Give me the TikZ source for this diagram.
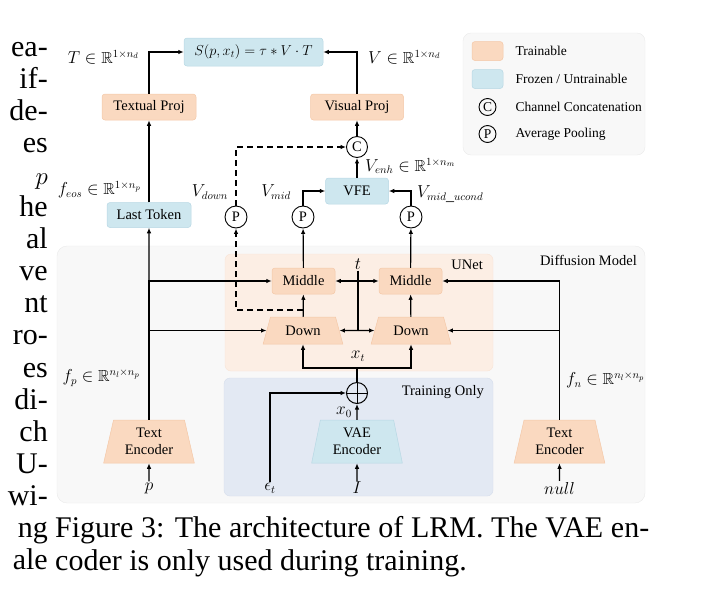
\documentclass[tikz,border=0pt]{standalone}
\usepackage{amssymb}
\usepackage{fontspec}
\setmainfont{Liberation Serif}
\usetikzlibrary{arrows.meta,positioning,calc,shapes.geometric}
\definecolor{trainfill}{RGB}{250,217,192}
\definecolor{trainedge}{RGB}{244,200,168}
\definecolor{frozfill}{RGB}{206,231,239}
\definecolor{frozedge}{RGB}{184,216,228}
\definecolor{unetfill}{RGB}{252,238,228}
\definecolor{unetedge}{RGB}{248,228,214}
\definecolor{trainonly}{RGB}{227,233,243}
\definecolor{trainonlyedge}{RGB}{214,222,236}
\definecolor{diffill}{RGB}{248,248,248}
\definecolor{difedge}{RGB}{234,234,234}
\newcommand\figfont{\fontsize{14.5}{16.5}\selectfont}
\newcommand\mathfont{\fontsize{16}{18}\selectfont}
\newcommand\legfont{\fontsize{13.5}{15}\selectfont}
\newcommand\capfont{\fontsize{30}{32.5}\selectfont}

\begin{document}
\begin{tikzpicture}[
  x=1pt,y=-1pt,>={Latex[length=5.5pt,width=4.5pt]},
  flow/.style={->,line width=1.2pt},
  link/.style={line width=1.2pt},
  box/.style={draw=trainedge,fill=trainfill,rounded corners=3pt,line width=.5pt,
    minimum height=26pt,inner sep=2pt,font=\figfont},
  frozen/.style={box,draw=frozedge,fill=frozfill},
  trap/.style={trapezium,draw=trainedge,fill=trainfill,line width=.5pt,
    trapezium stretches=true,align=center,inner sep=1pt,font=\figfont},
  pool/.style={circle,draw,line width=.9pt,minimum size=22pt,inner sep=0pt,font=\figfont},
  lbl/.style={inner sep=1pt,font=\mathfont},
  frag/.style={anchor=base east,inner sep=0pt,font=\capfont}]
\useasboundingbox (0,0) rectangle (706,611);
\foreach \w [count=\i] in {ea-,if-,de-,es,$p$,he,al,ve,nt,ro-,es,di-,ch,U-,wi-,ng,ale}
  \node[frag] (frag\i) at (48,{56+32.1*(\i-1)}) {\w};
\draw[draw=difedge,fill=diffill,rounded corners=10pt] (57,246) rectangle (645,503);
\draw[draw=difedge,fill=diffill,rounded corners=8pt] (463,33) rectangle (645,155);
\draw[draw=unetedge,fill=unetfill,rounded corners=6pt] (225,254) rectangle (493,371);
\draw[draw=trainonlyedge,fill=trainonly,rounded corners=6pt] (224,378) rectangle (493,496);
\node[inner sep=1pt,font=\figfont,anchor=east] (diffname) at (638,260) {Diffusion Model};
\node[inner sep=1pt,font=\figfont,anchor=east] (unetname) at (484,265) {UNet};
\node[inner sep=1pt,font=\figfont,anchor=east] (trainname) at (485,392) {Training Only};
\node[box,minimum width=31pt,minimum height=19pt] (legtrain) at (487.5,51) {};
\node[frozen,minimum width=31pt,minimum height=19pt] (legfroz) at (487.5,79) {};
\node[pool,minimum size=17pt,font=\legfont] (legcat) at (487.5,107) {C};
\node[pool,minimum size=17pt,font=\legfont] (legpool) at (487.5,134) {P};
\node[anchor=west,font=\legfont] at (512,51) {Trainable};
\node[anchor=west,font=\legfont] at (512,79) {Frozen / Untrainable};
\node[anchor=west,font=\legfont] at (512,107) {Channel Concatenation};
\node[anchor=west,font=\legfont] at (512,134) {Average Pooling};
\node[frozen,minimum width=139pt,minimum height=28pt] (score) at (253.5,52) {$S(p,x_t)=\tau*V\cdot T$};
\node[box,minimum width=94pt] (tproj) at (149,107) {Textual Proj};
\node[box,minimum width=93pt] (vproj) at (357,107) {Visual Proj};
\node[frozen,minimum width=84pt,minimum height=25pt] (lasttok) at (149,215) {Last Token};
\node[pool,minimum size=21pt] (cat) at (357,147) {C};
\node[frozen,minimum width=63pt] (vfe) at (357,191) {VFE};
\node[pool] (pdown) at (236,217) {P};
\node[pool] (pmid) at (303,217) {P};
\node[pool] (pucond) at (411,217) {P};
\node[box,minimum width=63pt] (mid1) at (303.5,281) {Middle};
\node[box,minimum width=63pt] (mid2) at (410.5,281) {Middle};
\node[trap,trapezium angle=70,minimum width=80pt,minimum height=27pt] (down1) at (303,330.5) {Down};
\node[trap,trapezium angle=70,minimum width=80pt,minimum height=27pt] (down2) at (411,330.5) {Down};
\node[trap,trapezium angle=76,minimum width=91pt,minimum height=43pt] (tenc1) at (149,441.5) {Text\\Encoder};
\node[trap,trapezium angle=76,minimum width=91pt,minimum height=43pt] (tenc2) at (559.5,441.5) {Text\\Encoder};
\node[trap,trapezium angle=78,draw=frozedge,fill=frozfill,minimum width=91pt,minimum height=43pt] (vae) at (357,441.5) {VAE\\Encoder};
\node[circle,draw,line width=1pt,minimum size=21pt,inner sep=0pt,
  path picture={\draw[line width=1pt] (path picture bounding box.north)--(path picture bounding box.south)
  (path picture bounding box.west)--(path picture bounding box.east);}] (plus) at (357,393) {};
\node[lbl] (pin) at (149,488) {$p$};
\node[lbl] (nullin) at (559.5,488) {$null$};
\node[lbl] (imgin) at (357,488) {$I$};
\node[lbl] (noise) at (270,488) {$\epsilon_t$};
\node[lbl] (tin) at (358,264) {$t$};
\coordinate (tmid) at (358,281);
\coordinate (tbot) at (358,330.5);
\coordinate (xt) at (357,368);
\coordinate (dtap) at (303,310);
\node[lbl] at (358,356) {$x_t$};
\node[lbl,anchor=east] at (353,412) {$x_0$};
\node[lbl,anchor=east] at (140,57) {$T\in\mathbb{R}^{1\times n_d}$};
\node[lbl,anchor=west] at (367,57) {$V\in\mathbb{R}^{1\times n_d}$};
\node[lbl,anchor=east] at (142,190) {$f_{eos}\in\mathbb{R}^{1\times n_p}$};
\node[lbl,anchor=west] at (364,166) {$V_{enh}\in\mathbb{R}^{1\times n_m}$};
\node[lbl] at (210,192) {$V_{down}$};
\node[lbl] at (276,192) {$V_{mid}$};
\node[lbl,anchor=west] at (416,194) {$V_{mid\_ucond}$};
\node[lbl,anchor=east] at (141,378) {$f_p\in\mathbb{R}^{n_l\times n_p}$};
\node[lbl,anchor=west] at (565,380) {$f_n\in\mathbb{R}^{n_l\times n_p}$};
\draw[flow] (tproj)|-(score);
\draw[flow] (vproj)|-(score);
\draw[flow] (lasttok)--(tproj);
\draw[flow] (cat)--(vproj);
\draw[flow] (vfe)--(cat);
\draw[flow] (pmid)|-(vfe);
\draw[flow] (pucond)|-(vfe);
\draw[flow,dashed,dash pattern=on 6pt off 4pt] (pdown)|-(cat);
\draw[flow,dashed,dash pattern=on 6pt off 4pt] (dtap)-|(pdown);
\draw[flow] (mid1)--(pmid);
\draw[flow] (mid2)--(pucond);
\draw[flow] (down1)--(mid1);
\draw[flow] (down2)--(mid2);
\draw[link] (tin)--(tbot);
\draw[flow] (tmid)--(mid1);
\draw[flow] (tmid)--(mid2);
\draw[flow] (tbot)--(down1);
\draw[flow] (tbot)--(down2);
\draw[link] (plus)--(xt);
\draw[flow] (xt)-|(down1);
\draw[flow] (xt)-|(down2);
\draw[flow] (vae)--(plus);
\draw[flow] (noise)|-(plus);
\draw[flow] (imgin)--(vae);
\draw[flow] (pin)--(tenc1);
\draw[flow] (nullin)--(tenc2);
\draw[flow] (tenc1)--(lasttok);
\draw[flow] (tenc1)|-(mid1);
\draw[flow] (tenc1)|-(down1);
\draw[flow] (tenc2)|-(mid2);
\draw[flow] (tenc2)|-(down2);
\node[anchor=north west,inner sep=0pt,text width=594pt,align=justify,font=\capfont] (caption) at (55,516.5)
 {Figure 3: The architecture of LRM. The VAE en-\linebreak coder is only used during training.};
\end{tikzpicture}
\end{document}
